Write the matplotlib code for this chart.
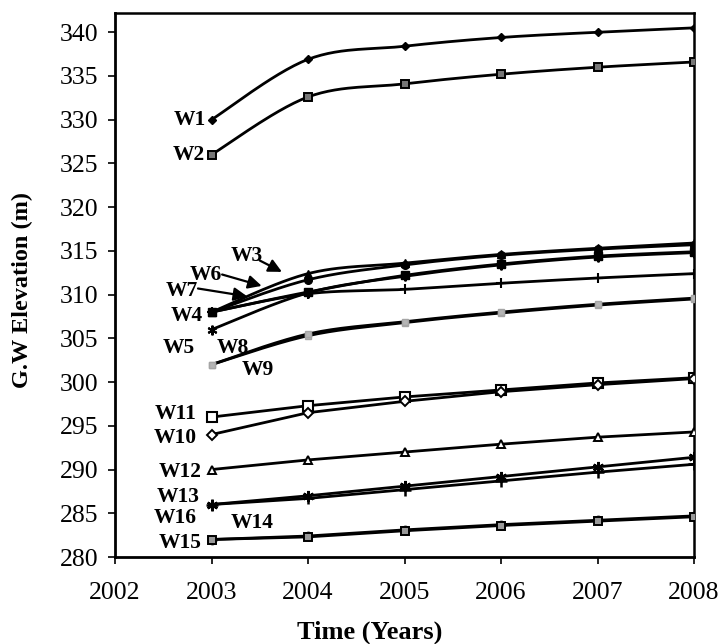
import numpy as np
import matplotlib
matplotlib.use("Agg")
import matplotlib.pyplot as plt

years = [2003, 2004, 2005, 2006, 2007, 2008]

W1 = [330.0, 336.9, 338.4, 339.4, 340.0, 340.5]
W2 = [326.0, 332.6, 334.1, 335.2, 336.0, 336.6]
W3 = [308.0, 312.4, 313.6, 314.6, 315.3, 315.9]
W6 = [308.0, 311.7, 313.4, 314.5, 315.2, 315.7]
W4 = [308.0, 310.3, 312.2, 313.5, 314.4, 314.9]
W5 = [306.0, 310.2, 312.1, 313.4, 314.3, 314.8]
W7 = [308.0, 310.1, 310.6, 311.3, 311.9, 312.4]
W8 = [302.0, 305.5, 306.9, 308.0, 308.9, 309.6]
W9 = [302.0, 305.3, 306.8, 307.9, 308.8, 309.5]
W11 = [296.0, 297.3, 298.3, 299.1, 299.9, 300.5]
W10 = [294.0, 296.5, 297.8, 298.9, 299.7, 300.4]
W12 = [290.0, 291.1, 292.0, 292.9, 293.7, 294.3]
W13 = [286.0, 287.0, 288.1, 289.2, 290.3, 291.4]
W16 = [286.0, 286.7, 287.7, 288.7, 289.7, 290.6]
W14 = [282.0, 282.4, 283.1, 283.7, 284.2, 284.7]
W15 = [282.0, 282.3, 283.0, 283.6, 284.1, 284.6]

x_ticks = [2002, 2003, 2004, 2005, 2006, 2007, 2008]
y_ticks = [280, 285, 290, 295, 300, 305, 310, 315, 320, 325, 330, 335, 340]

SERIF = ["Liberation Serif", "DejaVu Serif"]


def smooth(xs, ys, n=30):
    xs = np.asarray(xs, float)
    ys = np.asarray(ys, float)
    P = np.column_stack([xs, ys])
    Pe = np.vstack([P[0], P, P[-1]])
    out = []
    for i in range(len(P) - 1):
        p0, p1, p2, p3 = Pe[i], Pe[i + 1], Pe[i + 2], Pe[i + 3]
        c1 = p1 + (p2 - p0) / 6.0
        c2 = p2 - (p3 - p1) / 6.0
        t = np.linspace(0, 1, n)[:, None]
        seg = ((1 - t) ** 3) * p1 + 3 * ((1 - t) ** 2) * t * c1 + 3 * (1 - t) * t ** 2 * c2 + t ** 3 * p2
        out.append(seg if i == 0 else seg[1:])
    s = np.vstack(out)
    return s[:, 0], s[:, 1]


fig = plt.figure(figsize=(7.2, 6.44), dpi=100)
ax = fig.add_axes([115 / 720, 1 - 557 / 644, (694 - 115) / 720, (557 - 13) / 644])

ASTER = (6, 2, 0)
series = [
    (W1, True, dict(marker="D", ms=4.5, mfc="black", mec="black")),
    (W2, True, dict(marker="s", ms=5.5, mfc="#777777", mec="black", mew=1.4)),
    (W9, True, dict(marker="s", ms=4.5, mfc="#b5b5b5", mec="#a5a5a5")),
    (W8, True, dict(marker="s", ms=4.5, mfc="#b5b5b5", mec="#a5a5a5")),
    (W7, True, dict(marker="+", ms=7, mfc="black", mec="black", mew=1.5)),
    (W5, True, dict(marker=ASTER, ms=7, mfc="black", mec="black", mew=1.5)),
    (W4, True, dict(marker="s", ms=6, mfc="black", mec="black")),
    (W6, True, dict(marker="o", ms=5.5, mfc="black", mec="black")),
    (W3, True, dict(marker="^", ms=5.5, mfc="black", mec="black")),
    (W11, False, dict(marker="s", ms=6.5, mfc="white", mec="black", mew=1.5)),
    (W10, False, dict(marker="D", ms=5, mfc="white", mec="black", mew=1.4)),
    (W12, False, dict(marker="^", ms=6, mfc="white", mec="black", mew=1.4)),
    (W16, False, dict(marker="+", ms=8, mfc="black", mec="black", mew=1.8)),
    (W13, False, dict(marker=ASTER, ms=8, mfc="black", mec="black", mew=1.8)),
    (W14, False, dict(marker="o", ms=5.5, mfc="white", mec="black", mew=1.5)),
    (W15, False, dict(marker="s", ms=5.5, mfc="#999999", mec="black", mew=1.4)),
]

for ys, sm, mk in series:
    if sm:
        sx, sy = smooth(years, ys)
        ax.plot(sx, sy, color="black", lw=2.0, zorder=2, solid_capstyle="round")
    else:
        ax.plot(years, ys, color="black", lw=2.0, zorder=2)
    ax.plot(years, ys, linestyle="none", zorder=3, **mk)

ax.set_xlim(2002, 2008)
ax.set_ylim(280, 342.2)
ax.set_xticks(x_ticks)
ax.set_yticks(y_ticks)
ax.set_xticklabels([str(v) for v in x_ticks], fontfamily=SERIF, fontsize=18.5)
ax.set_yticklabels([str(v) for v in y_ticks], fontfamily=SERIF, fontsize=18.5)
ax.tick_params(axis="both", direction="out", length=5, width=1.2, colors="black")
ax.tick_params(axis="y", pad=7)
ax.tick_params(axis="x", pad=13)
for side in ["left", "bottom"]:
    ax.spines[side].set_linewidth(2.0)
for side in ["top", "right"]:
    ax.spines[side].set_linewidth(1.8)

ax.set_xlabel("Time (Years)", fontfamily=SERIF, fontsize=19, fontweight="bold")
ax.xaxis.set_label_coords((370 - 115) / 579, (557 - 621) / 544)
ax.set_ylabel("G.W Elevation (m)", fontfamily=SERIF, fontsize=17.5, fontweight="bold")
ax.yaxis.set_label_coords((33 - 115) / 579, (557 - 290) / 544)

lab = dict(fontfamily=SERIF, fontsize=15.5, fontweight="bold", color="black", va="center")
ax.text(2002.94, 330.0, "W1", ha="right", **lab)
ax.text(2002.93, 326.0, "W2", ha="right", **lab)
ax.text(2002.91, 307.5, "W4", ha="right", **lab)
ax.text(2002.83, 303.85, "W5", ha="right", **lab)
ax.text(2003.22, 303.85, "W8", ha="center", **lab)
ax.text(2003.48, 301.4, "W9", ha="center", **lab)
ax.text(2002.85, 296.3, "W11", ha="right", **lab)
ax.text(2002.85, 293.6, "W10", ha="right", **lab)
ax.text(2002.90, 289.75, "W12", ha="right", **lab)
ax.text(2002.88, 286.9, "W13", ha="right", **lab)
ax.text(2002.85, 284.5, "W16", ha="right", **lab)
ax.text(2003.42, 283.9, "W14", ha="center", **lab)
ax.text(2002.90, 281.6, "W15", ha="right", **lab)

arr = dict(arrowstyle="-|>,head_length=0.8,head_width=0.4", color="black", lw=1.6,
           shrinkA=0, shrinkB=0)
ax.annotate("", xy=(2003.73, 312.6), xytext=(2003.50, 313.9), arrowprops=arr)
ax.text(2003.37, 314.4, "W3", ha="center", **lab)
ax.annotate("", xy=(2003.52, 311.0), xytext=(2003.11, 312.3), arrowprops=arr)
ax.text(2003.11, 312.3, "W6", ha="right", **lab)
ax.annotate("", xy=(2003.37, 309.8), xytext=(2002.86, 310.7), arrowprops=arr)
ax.text(2002.86, 310.4, "W7", ha="right", **lab)

fig.savefig("out.png", dpi=100)
